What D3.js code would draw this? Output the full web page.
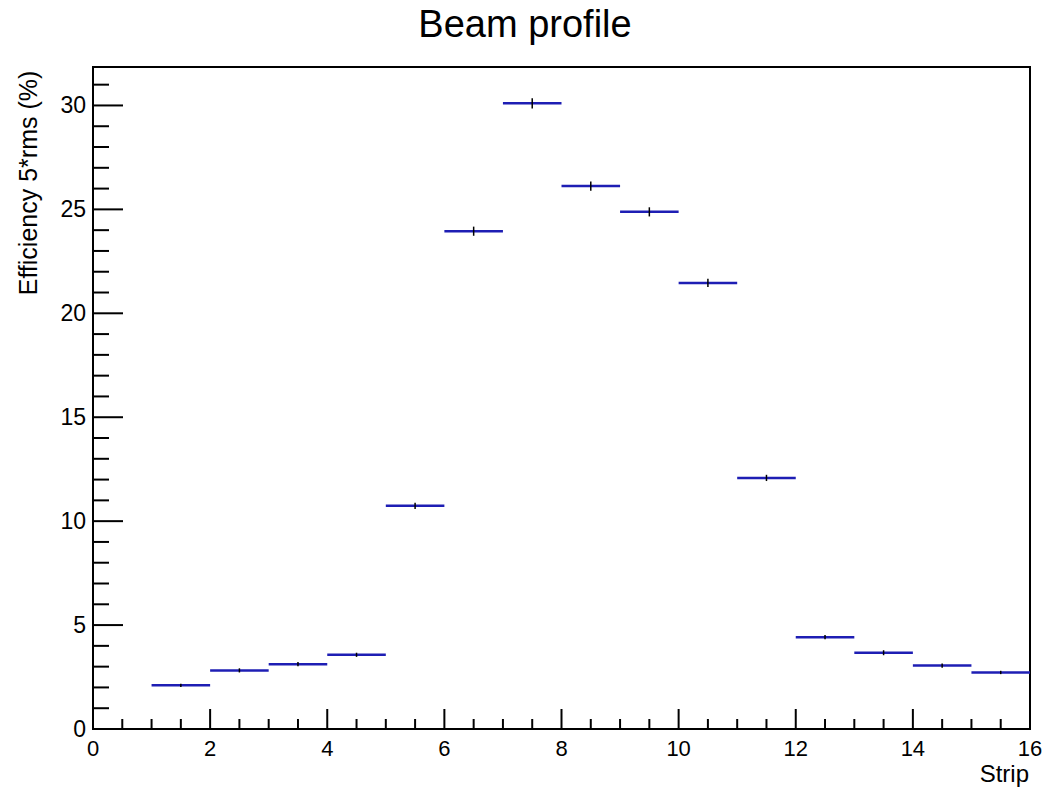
<!DOCTYPE html>
<html>
<head>
<meta charset="utf-8">
<script src="https://cdn.jsdelivr.net/npm/d3@7"></script>
<style>
  html, body { margin: 0; padding: 0; background: #fff; }
  text { font-family: "Liberation Sans", Arial, sans-serif; fill: #000; }
</style>
</head>
<body>
<svg id="chart" width="1046" height="790"></svg>
<script>
// ---- data ----
const binLow  = [1, 2, 3, 4, 5, 6, 7, 8, 9, 10, 11, 12, 13, 14, 15];
const binHigh = [2, 3, 4, 5, 6, 7, 8, 9, 10, 11, 12, 13, 14, 15, 16];
const values  = [2.1, 2.82, 3.12, 3.57, 10.74, 23.95, 30.1, 26.12, 24.88, 21.46, 12.08, 4.42, 3.67, 3.05, 2.72];
const errors  = [0.08, 0.1, 0.1, 0.1, 0.15, 0.22, 0.25, 0.22, 0.22, 0.2, 0.15, 0.1, 0.12, 0.1, 0.08];
const xTickLabels = [0, 2, 4, 6, 8, 10, 12, 14, 16];
const yTickLabels = [0, 5, 10, 15, 20, 25, 30];
const title = "Beam profile";
const xTitle = "Strip";
const yTitle = "Efficiency 5*rms (%)";

// ---- layout ----
const svg = d3.select("#chart");
const L = 93, R = 1030, T = 67, B = 729;
const x = d3.scaleLinear().domain([0, 16]).range([L, R]);
const y = d3.scaleLinear().domain([0, 31.85]).range([B, T]);

// frame
svg.append("rect").attr("x", L).attr("y", T).attr("width", R - L).attr("height", B - T)
  .attr("fill", "none").attr("stroke", "#000").attr("stroke-width", 2);

// x ticks (inward)
const xMinor = d3.range(0, 16.001, 0.5);
svg.append("g").selectAll("line").data(xMinor).join("line")
  .attr("x1", d => x(d)).attr("x2", d => x(d))
  .attr("y1", B).attr("y2", d => (Math.abs(d % 2) < 1e-9 ? B - 20 : B - 10))
  .attr("stroke", "#000").attr("stroke-width", 2);

// y ticks (inward)
const yMinor = d3.range(0, 31.001, 1);
svg.append("g").selectAll("line").data(yMinor).join("line")
  .attr("y1", d => y(d)).attr("y2", d => y(d))
  .attr("x1", L).attr("x2", d => (d % 5 === 0 ? L + 30 : L + 16))
  .attr("stroke", "#000").attr("stroke-width", 2);

// tick labels
svg.append("g").selectAll("text").data(xTickLabels).join("text")
  .attr("x", d => x(d)).attr("y", 756)
  .attr("text-anchor", "middle").attr("font-size", 22)
  .text(d => d);

svg.append("g").selectAll("text").data(yTickLabels).join("text")
  .attr("x", 86).attr("y", d => y(d) + 8)
  .attr("text-anchor", "end").attr("font-size", 23)
  .text(d => d);

// axis titles
svg.append("text").attr("x", 1029).attr("y", 782)
  .attr("text-anchor", "end").attr("font-size", 24).text(xTitle);

svg.append("text")
  .attr("transform", "translate(37,183) rotate(-90)")
  .attr("text-anchor", "middle").attr("font-size", 25).text(yTitle);

// title
svg.append("text").attr("x", 525).attr("y", 37)
  .attr("text-anchor", "middle").attr("font-size", 38).text(title);

// data: horizontal bin lines
const idx = d3.range(values.length);
svg.append("g").selectAll("line").data(idx).join("line")
  .attr("x1", i => x(binLow[i])).attr("x2", i => x(binHigh[i]))
  .attr("y1", i => y(values[i])).attr("y2", i => y(values[i]))
  .attr("stroke", "#1e1eb4").attr("stroke-width", 2.5);

// error bars
svg.append("g").selectAll("line").data(idx).join("line")
  .attr("x1", i => x((binLow[i] + binHigh[i]) / 2)).attr("x2", i => x((binLow[i] + binHigh[i]) / 2))
  .attr("y1", i => y(values[i] - errors[i])).attr("y2", i => y(values[i] + errors[i]))
  .attr("stroke", "#000").attr("stroke-width", 1.5);
</script>
</body>
</html>
